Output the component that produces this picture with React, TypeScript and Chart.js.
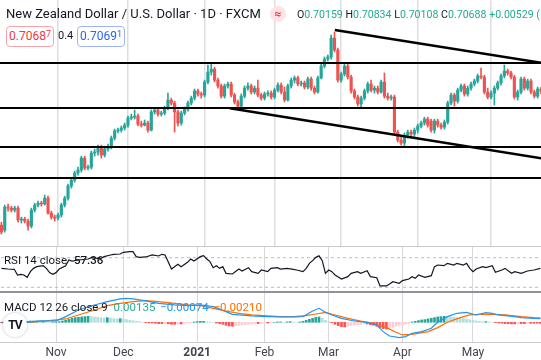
import React, { useEffect, useRef } from "react";
import { Chart, registerables } from "chart.js";
Chart.register(...registerables);

// ---- Price candles (daily, index 0 = 8 Oct 2020) ----
const openP = [
  0.6568, 0.6545, 0.6652, 0.6647, 0.6638, 0.6647, 0.6592, 0.6596, 0.6587, 0.6564,
  0.6638, 0.6661, 0.667, 0.6666, 0.6693, 0.6624, 0.6605, 0.6601, 0.6615, 0.6661,
  0.6693, 0.6749, 0.6776, 0.6809, 0.6823, 0.6878, 0.6832, 0.6836, 0.6901, 0.6906,
  0.6929, 0.6892, 0.692, 0.6933, 0.697, 0.7003, 0.7007, 0.7017, 0.703, 0.7063,
  0.7067, 0.7072, 0.7035, 0.703, 0.704, 0.7007, 0.7091, 0.71, 0.7081, 0.7086,
  0.7109, 0.7146, 0.7132, 0.7091, 0.704, 0.7086, 0.7104, 0.7132, 0.7155, 0.7188,
  0.7174, 0.7169, 0.7229, 0.7275, 0.7289, 0.7238, 0.7211, 0.7164, 0.7211, 0.722,
  0.7169, 0.7137, 0.7118, 0.7164, 0.7201, 0.7211, 0.7183, 0.7201, 0.7169, 0.7155,
  0.7174, 0.7178, 0.716, 0.7192, 0.7215, 0.7183, 0.7146, 0.7211, 0.7238, 0.7248,
  0.722, 0.7225, 0.7206, 0.7243, 0.7201, 0.7183, 0.7248, 0.7303, 0.7335, 0.7345,
  0.7432, 0.7377, 0.7238, 0.7266, 0.7303, 0.7252, 0.7188, 0.716, 0.7128, 0.7155,
  0.7188, 0.722, 0.7192, 0.7201, 0.7183, 0.7229, 0.7164, 0.7155, 0.716, 0.6998,
  0.6961, 0.6947, 0.6984, 0.6998, 0.6989, 0.7007, 0.7026, 0.704, 0.7058, 0.7049,
  0.7007, 0.7049, 0.703, 0.7021, 0.7044, 0.7132, 0.7169, 0.7141, 0.7192, 0.7211,
  0.7174, 0.7201, 0.722, 0.7234, 0.7257, 0.7252, 0.7183, 0.716, 0.7178, 0.7201,
  0.7225, 0.7257, 0.728, 0.7271, 0.7252, 0.716, 0.7183, 0.7243, 0.7201, 0.7234,
  0.7183, 0.7164, 0.7197,
];
const highP = [
  0.6582, 0.6661, 0.6666, 0.6656, 0.6656, 0.6656, 0.6605, 0.6605, 0.6596, 0.6647,
  0.667, 0.6679, 0.6679, 0.6707, 0.6702, 0.6633, 0.6615, 0.6624, 0.667, 0.6702,
  0.6758, 0.6786, 0.6818, 0.6836, 0.6887, 0.6887, 0.6846, 0.691, 0.692, 0.6938,
  0.6938, 0.6933, 0.6943, 0.698, 0.7012, 0.7017, 0.7026, 0.704, 0.7072, 0.7081,
  0.71, 0.7081, 0.7049, 0.7054, 0.7049, 0.71, 0.7109, 0.7109, 0.7095, 0.7118,
  0.7178, 0.7155, 0.7141, 0.71, 0.7095, 0.7114, 0.7141, 0.7164, 0.7197, 0.7197,
  0.7183, 0.7238, 0.7308, 0.7312, 0.7298, 0.7248, 0.722, 0.722, 0.7229, 0.7229,
  0.7178, 0.7146, 0.7174, 0.7211, 0.7225, 0.722, 0.7211, 0.7238, 0.7178, 0.7183,
  0.7188, 0.7188, 0.7201, 0.7225, 0.7225, 0.7206, 0.722, 0.7248, 0.7257, 0.7257,
  0.7234, 0.7234, 0.7252, 0.7252, 0.7211, 0.7257, 0.7312, 0.7345, 0.7354, 0.7446,
  0.746, 0.7386, 0.7275, 0.7312, 0.7312, 0.7261, 0.7197, 0.7169, 0.7164, 0.7197,
  0.7229, 0.7238, 0.7211, 0.7211, 0.7238, 0.7271, 0.7178, 0.7169, 0.7169, 0.7007,
  0.6975, 0.6994, 0.7007, 0.7007, 0.7017, 0.7035, 0.7049, 0.7067, 0.7067, 0.7058,
  0.7058, 0.7058, 0.704, 0.7054, 0.7141, 0.7178, 0.7178, 0.7201, 0.722, 0.722,
  0.7211, 0.7229, 0.7243, 0.7266, 0.7294, 0.7261, 0.7201, 0.7188, 0.7211, 0.7234,
  0.7266, 0.7308, 0.7289, 0.728, 0.7261, 0.7192, 0.7252, 0.7252, 0.7243, 0.7243,
  0.7192, 0.7206, 0.7206,
];
const lowP = [
  0.6527, 0.6536, 0.6633, 0.6629, 0.6629, 0.6582, 0.6578, 0.6578, 0.6545, 0.6555,
  0.6629, 0.6652, 0.6656, 0.6661, 0.6619, 0.6596, 0.6587, 0.6592, 0.6605, 0.6652,
  0.6684, 0.6739, 0.6767, 0.6799, 0.6813, 0.6823, 0.6823, 0.6827, 0.6887, 0.6892,
  0.6878, 0.6883, 0.691, 0.692, 0.6961, 0.6994, 0.6998, 0.7007, 0.7021, 0.7054,
  0.7058, 0.7026, 0.7021, 0.7026, 0.6998, 0.7003, 0.7081, 0.7072, 0.7072, 0.7077,
  0.71, 0.7123, 0.6998, 0.7026, 0.703, 0.7077, 0.7095, 0.7123, 0.7146, 0.7164,
  0.7155, 0.716, 0.722, 0.7261, 0.7229, 0.7201, 0.7155, 0.7155, 0.7201, 0.716,
  0.7128, 0.7104, 0.7109, 0.7155, 0.7192, 0.7174, 0.7174, 0.716, 0.7146, 0.7146,
  0.7164, 0.7151, 0.7151, 0.7183, 0.7174, 0.7137, 0.7141, 0.7201, 0.7225, 0.7211,
  0.7211, 0.7197, 0.7197, 0.7192, 0.7174, 0.7178, 0.7243, 0.7294, 0.7326, 0.7335,
  0.7368, 0.7229, 0.7229, 0.7257, 0.7243, 0.7178, 0.7151, 0.7118, 0.7114, 0.7146,
  0.7178, 0.7183, 0.7178, 0.7174, 0.7178, 0.7155, 0.7146, 0.7146, 0.6989, 0.6952,
  0.6938, 0.6933, 0.697, 0.6975, 0.6975, 0.6994, 0.7017, 0.703, 0.7021, 0.6998,
  0.6994, 0.7021, 0.7012, 0.7012, 0.7035, 0.7123, 0.7118, 0.7132, 0.7183, 0.7164,
  0.7164, 0.7192, 0.7211, 0.7225, 0.7243, 0.7174, 0.7151, 0.7151, 0.7123, 0.7192,
  0.7215, 0.7248, 0.7261, 0.7243, 0.7151, 0.7146, 0.7174, 0.7192, 0.7192, 0.7174,
  0.7155, 0.7155, 0.7174,
];
const closeP = [
  0.6536, 0.6652, 0.6647, 0.6638, 0.6647, 0.6592, 0.6596, 0.6587, 0.6564, 0.6638,
  0.6661, 0.667, 0.6666, 0.6693, 0.6624, 0.6605, 0.6601, 0.6615, 0.6661, 0.6693,
  0.6749, 0.6776, 0.6809, 0.6823, 0.6878, 0.6832, 0.6836, 0.6901, 0.6906, 0.6929,
  0.6892, 0.692, 0.6933, 0.697, 0.7003, 0.7007, 0.7017, 0.703, 0.7063, 0.7067,
  0.7072, 0.7035, 0.703, 0.704, 0.7007, 0.7091, 0.71, 0.7081, 0.7086, 0.7109,
  0.7146, 0.7132, 0.7091, 0.704, 0.7086, 0.7104, 0.7132, 0.7155, 0.7188, 0.7174,
  0.7169, 0.7229, 0.7275, 0.7289, 0.7238, 0.7211, 0.7164, 0.7211, 0.722, 0.7169,
  0.7137, 0.7118, 0.7164, 0.7201, 0.7211, 0.7183, 0.7201, 0.7169, 0.7155, 0.7174,
  0.7178, 0.716, 0.7192, 0.7215, 0.7183, 0.7146, 0.7211, 0.7238, 0.7248, 0.722,
  0.7225, 0.7206, 0.7243, 0.7201, 0.7183, 0.7248, 0.7303, 0.7335, 0.7345, 0.7432,
  0.7377, 0.7238, 0.7266, 0.7303, 0.7252, 0.7188, 0.716, 0.7128, 0.7155, 0.7188,
  0.722, 0.7192, 0.7201, 0.7183, 0.7229, 0.7164, 0.7155, 0.716, 0.6998, 0.6961,
  0.6947, 0.6984, 0.6998, 0.6989, 0.7007, 0.7026, 0.704, 0.7058, 0.703, 0.7007,
  0.7049, 0.703, 0.7021, 0.7044, 0.7132, 0.7169, 0.7141, 0.7192, 0.7211, 0.7174,
  0.7201, 0.722, 0.7234, 0.7257, 0.7252, 0.7183, 0.716, 0.7178, 0.7201, 0.7225,
  0.7257, 0.728, 0.7271, 0.7252, 0.716, 0.7183, 0.7243, 0.7201, 0.7234, 0.7183,
  0.7164, 0.7197, 0.7188,
];

// ---- Drawings ----
const levelPrices = [0.7317, 0.7109, 0.6929, 0.6786];
const upperTrendIdx = [100.1, 165];
const upperTrendPrice = [0.7469, 0.7311];
const lowerTrendIdx = [68.6, 165];
const lowerTrendPrice = [0.7108, 0.687];

// ---- Time axis ----
const monthIdx = [17, 38, 61, 82, 102, 125, 147];
const monthLabels = ["Nov", "Dec", "2021", "Feb", "Mar", "Apr", "May"];

// ---- RSI 14 ----
const rsiIdx = [0, 2, 4, 5, 6, 7, 8, 9, 10, 11, 13, 14, 15, 16, 17, 18, 20, 21, 22, 24, 27, 28, 30, 31, 32, 34, 35, 37, 38, 40, 41, 42, 43, 45, 47, 49, 50, 51, 53, 55, 56, 58, 59, 60, 62, 63, 64, 65, 66, 67, 68, 69, 70, 72, 74, 75, 77, 78, 80, 81, 83, 84, 86, 87, 89, 91, 92, 94, 95, 96, 97, 98, 99, 100, 101, 102, 103, 104, 106, 108, 109, 111, 112, 114, 115, 117, 118, 120, 121, 122, 124, 125, 127, 128, 129, 130, 132, 134, 135, 136, 138, 139, 141, 142, 144, 145, 146, 147, 148, 150, 151, 153, 154, 156, 157, 159, 160, 162, 164, 166, 168];
const rsiVal = [55.6, 54.7, 54.3, 46.6, 47.5, 46.6, 43.5, 51.1, 55.6, 57.9, 59.2, 55.6, 49.8, 47.5, 49.8, 54.7, 59.2, 66.9, 65.5, 66.9, 68.2, 70.0, 69.2, 69.2, 71.4, 73.7, 74.6, 75.0, 77.3, 78.2, 78.2, 71.4, 70.5, 71.0, 73.7, 72.3, 74.6, 73.7, 54.7, 61.0, 57.9, 63.7, 68.2, 65.5, 71.4, 72.8, 68.2, 64.7, 56.5, 59.2, 55.6, 57.9, 48.9, 48.0, 54.7, 52.0, 56.5, 51.1, 48.9, 53.4, 51.1, 55.6, 56.5, 54.7, 55.6, 54.3, 53.4, 51.1, 55.6, 62.4, 66.0, 70.5, 72.5, 66.0, 48.9, 53.4, 51.1, 46.6, 41.2, 44.4, 48.9, 51.1, 48.9, 52.5, 44.4, 43.0, 31.8, 31.8, 34.5, 37.6, 35.4, 39.0, 41.2, 44.4, 42.1, 46.6, 43.5, 45.7, 57.9, 60.1, 59.2, 62.4, 60.1, 62.4, 60.1, 62.4, 55.6, 51.1, 54.7, 57.9, 56.5, 59.2, 50.2, 53.4, 55.6, 48.9, 51.1, 48.9, 52.0, 53.4, 55.6];
const rsiLevels = [70, 30];

// ---- MACD 12 26 9 ----
const macdIdx = [0, 8, 12, 17, 20, 24, 29, 33, 37, 39, 41, 45, 49, 54, 58, 62, 66, 70, 72, 74, 78, 83, 87, 91, 94, 97, 99, 101, 103, 106, 110, 114, 117, 119, 121, 124, 126, 128, 131, 134, 136, 139, 142, 145, 148, 151, 153, 155, 160, 162, 166, 168];
const macdVal = [-0.0001, 0, 0.0004, 0.0004, 0.0017, 0.0037, 0.0052, 0.0062, 0.007, 0.0072, 0.007, 0.0064, 0.0057, 0.0052, 0.005, 0.0052, 0.0047, 0.0032, 0.0024, 0.0022, 0.0019, 0.0017, 0.0016, 0.0016, 0.0017, 0.0034, 0.0042, 0.003, 0.0022, 0.0012, 0.0004, 0, -0.0008, -0.0028, -0.0041, -0.0046, -0.0043, -0.0033, -0.0028, -0.0018, 0, 0.0017, 0.0027, 0.003, 0.0022, 0.0029, 0.0027, 0.0022, 0.0017, 0.0014, 0.0012, 0.0011];
const signalIdx = [0, 8, 14, 20, 24, 29, 33, 37, 41, 45, 49, 54, 58, 62, 66, 70, 74, 78, 83, 87, 91, 95, 98, 101, 104, 108, 112, 116, 120, 123, 125, 128, 133, 136, 139, 143, 146, 149, 153, 157, 162, 166, 168];
const signalVal = [0, 0, 0.0004, 0.001, 0.0022, 0.0037, 0.005, 0.0057, 0.0062, 0.0065, 0.0062, 0.0057, 0.0052, 0.005, 0.0042, 0.0034, 0.0027, 0.0022, 0.0019, 0.0017, 0.0017, 0.002, 0.0025, 0.003, 0.0022, 0.0012, 0.0004, -0.0003, -0.0016, -0.003, -0.0038, -0.0036, -0.0028, -0.0016, 0, 0.0014, 0.0022, 0.0024, 0.0024, 0.0022, 0.0017, 0.0014, 0.0013];
const histVal = [
  -0.0001, -0.0001, 0, 0.0001, 0.0002, 0.0002, 0.0002, 0.0003, 0.0003, 0.0004,
  0.0004, 0.0004, 0.0003, 0.0003, 0.0002, 0.0001, 0.0001, 0.0001, 0.0002, 0.0004,
  0.0006, 0.0009, 0.0012, 0.0014, 0.0015, 0.0016, 0.0017, 0.0018, 0.0017, 0.0016,
  0.0015, 0.0014, 0.0013, 0.0014, 0.0012, 0.0011, 0.001, 0.0011, 0.001, 0.0008,
  0.0006, 0.0005, 0.0003, 0.0002, 0, -0.0001, -0.0002, -0.0002, -0.0003, -0.0004,
  -0.0004, -0.0003, -0.0004, -0.0006, -0.0006, -0.0005, -0.0005, -0.0003, -0.0002, -0.0001,
  0.0001, 0.0002, 0.0003, 0.0003, 0.0002, 0.0001, 0, -0.0002, -0.0004, -0.0006,
  -0.0009, -0.0011, -0.0012, -0.0011, -0.0009, -0.0008, -0.0007, -0.0006, -0.0005, -0.0004,
  -0.0004, -0.0003, -0.0002, -0.0002, -0.0001, 0, 0.0001, 0.0001, 0, 0.0001,
  0.0002, 0.0001, 0, 0.0001, 0.0003, 0.0006, 0.0009, 0.0012, 0.0015, 0.0016,
  0.0012, 0.0006, 0.0002, -0.0001, -0.0006, -0.001, -0.0013, -0.0014, -0.0012, -0.001,
  -0.0008, -0.0007, -0.0006, -0.0005, -0.0005, -0.0007, -0.0009, -0.0012, -0.0016, -0.0019,
  -0.002, -0.0018, -0.0015, -0.0012, -0.0009, -0.0007, -0.0005, -0.0003, 0.0001, 0.0003,
  0.0005, 0.0007, 0.0008, 0.001, 0.0012, 0.0014, 0.0016, 0.0017, 0.0018, 0.0017,
  0.0016, 0.0015, 0.0014, 0.0013, 0.0012, 0.001, 0.0008, 0.0006, 0.0004, 0.0003,
  0.0002, 0.0002, 0.0001, 0, -0.0001, -0.0002, -0.0003, -0.0004, -0.0004, -0.0005,
  -0.0005, -0.0004, -0.0004, -0.0004, -0.0003, -0.0003, -0.0003, -0.0003, -0.0003,
];

// ---- Header values ----
const ohlcText = { o: "0.70159", h: "0.70834", l: "0.70108", c: "0.70688", chg: "+0.00529" };
const bidText = "0.70687";
const askText = "0.70691";
const spreadText = "0.4";
const rsiLast = "57.36";
const macdLast = { hist: "0.00135", macd: "\u22120.00074", signal: "\u22120.00210" };

const UP = "#26a69a";
const DOWN = "#ef5350";
const TEAL_TXT = "#22ab94";
const FONT = "Roboto, 'Liberation Sans', sans-serif";

const setMonthTicks = (scale: any) => {
  scale.ticks = monthIdx.map((v) => ({ value: v }));
};

export default function App() {
  const mainRef = useRef<HTMLCanvasElement>(null);
  const rsiRef = useRef<HTMLCanvasElement>(null);
  const macdRef = useRef<HTMLCanvasElement>(null);

  useEffect(() => {
    const idx = closeP.map((_, i) => i);
    const cCol = idx.map((i) => (closeP[i] >= openP[i] ? UP : DOWN));
    const lineDs = (pts: { x: number; y: number }[], w: number, color: string, extra: any = {}) => ({
      type: "line" as const,
      data: pts,
      borderColor: color,
      borderWidth: w,
      pointRadius: 0,
      tension: 0,
      order: 0,
      ...extra,
    });

    const main = new Chart(mainRef.current!, {
      type: "bar",
      data: {
        datasets: [
          ...levelPrices.map((p) => lineDs([{ x: -2, y: p }, { x: 170, y: p }], 2, "#000")),
          lineDs(upperTrendIdx.map((x, i) => ({ x, y: upperTrendPrice[i] })), 2.5, "#000"),
          lineDs(lowerTrendIdx.map((x, i) => ({ x, y: lowerTrendPrice[i] })), 2.5, "#000"),
          {
            type: "bar",
            data: idx.map((i) => ({ x: i, y: [lowP[i], highP[i]] })),
            backgroundColor: cCol,
            barThickness: 1,
            grouped: false,
            order: 2,
          },
          {
            type: "bar",
            data: idx.map((i) => ({ x: i, y: [openP[i], closeP[i]] })),
            backgroundColor: cCol,
            barThickness: 2.5,
            minBarLength: 1,
            grouped: false,
            order: 1,
          },
        ] as any,
      },
      options: {
        animation: false,
        responsive: false,
        maintainAspectRatio: false,
        layout: { padding: 0 },
        plugins: { legend: { display: false }, tooltip: { enabled: false } },
        scales: {
          x: {
            type: "linear",
            min: -0.42,
            max: 162.0,
            offset: false,
            afterBuildTicks: setMonthTicks,
            ticks: { display: false },
            grid: { color: "#dedede", lineWidth: 1.5, drawTicks: false, offset: false },
            border: { display: false },
          },
          y: { type: "linear", min: 0.6472, max: 0.7608, display: false },
        },
      } as any,
    });

    const rsi = new Chart(rsiRef.current!, {
      type: "line",
      data: {
        datasets: [
          ...rsiLevels.map((lv) =>
            lineDs([{ x: -2, y: lv }, { x: 172, y: lv }], 1, "#b8bbc3", { borderDash: [3, 3], order: 1 })
          ),
          lineDs(rsiIdx.map((x, i) => ({ x, y: rsiVal[i] })), 1.2, "#131722"),
        ] as any,
      },
      options: {
        animation: false,
        responsive: false,
        maintainAspectRatio: false,
        layout: { padding: 0 },
        plugins: { legend: { display: false }, tooltip: { enabled: false } },
        scales: {
          x: {
            type: "linear",
            min: -0.46,
            max: 168.2,
            offset: false,
            afterBuildTicks: setMonthTicks,
            ticks: { display: false },
            grid: { color: "#d9d9d9", lineWidth: 1, drawTicks: false, offset: false },
            border: { display: false },
          },
          y: { type: "linear", min: 25.0, max: 84.46, display: false },
        },
      } as any,
    });

    const histCol = histVal.map((v, i) => {
      const prev = i > 0 ? histVal[i - 1] : 0;
      if (v >= 0) return v >= prev ? "#26a69a" : "#b2dfdb";
      return v <= prev ? "#ff5252" : "#ffcdd2";
    });

    const macd = new Chart(macdRef.current!, {
      type: "bar",
      data: {
        datasets: [
          lineDs(macdIdx.map((x, i) => ({ x, y: macdVal[i] })), 1.2, "#2196f3"),
          lineDs(signalIdx.map((x, i) => ({ x, y: signalVal[i] })), 1.2, "#ff6d00"),
          {
            type: "bar",
            data: histVal.map((v, i) => ({ x: i, y: v })),
            backgroundColor: histCol,
            barThickness: 2,
            grouped: false,
            order: 2,
          },
        ] as any,
      },
      options: {
        animation: false,
        responsive: false,
        maintainAspectRatio: false,
        layout: { padding: 0 },
        plugins: { legend: { display: false }, tooltip: { enabled: false } },
        scales: {
          x: {
            type: "linear",
            min: -0.46,
            max: 168.2,
            offset: false,
            afterBuildTicks: setMonthTicks,
            afterFit: (s: any) => {
              s.height = 18;
            },
            ticks: {
              autoSkip: false,
              maxRotation: 0,
              padding: 4,
              color: "#42454f",
              font: (ctx: any) => ({
                family: FONT,
                size: 12,
                weight: ctx.tick && ctx.tick.label === "2021" ? "bold" : "normal",
              }),
              callback: (_v: any, i: number) => monthLabels[i],
            },
            grid: { color: "#d9d9d9", lineWidth: 1, drawTicks: false, offset: false },
            border: { display: false },
          },
          y: { type: "linear", min: -0.00591, max: 0.00879, display: false },
        },
      } as any,
    });

    return () => {
      main.destroy();
      rsi.destroy();
      macd.destroy();
    };
  }, []);

  const abs = (s: any) => ({ position: "absolute" as const, whiteSpace: "nowrap" as const, ...s });
  const boxStyle = (border: string, color: string, left: number) =>
    abs({
      left,
      top: 26,
      width: 46,
      height: 19,
      border: `1px solid ${border}`,
      borderRadius: 4,
      color,
      background: "#fff",
      font: `12px ${FONT}`,
      lineHeight: "19px",
      textAlign: "center",
    });

  return (
    <div style={{ position: "absolute", left: 0, top: 0, width: 541, height: 360, overflow: "hidden", background: "#fff", fontFamily: FONT }}>
      <canvas ref={mainRef} width={541} height={246} style={{ position: "absolute", left: 0, top: 0 }} />
      <canvas ref={rsiRef} width={541} height={44} style={{ position: "absolute", left: 0, top: 247 }} />
      <canvas ref={macdRef} width={541} height={67} style={{ position: "absolute", left: 0, top: 293 }} />

      <div style={abs({ left: 0, top: 246, width: 541, height: 1, background: "#c8cad0" })} />
      <div style={abs({ left: 0, top: 291, width: 541, height: 2, background: "#8f929b" })} />
      <div style={abs({ left: 0, top: 342, width: 541, height: 1, background: "#c8cad0" })} />

      <div style={abs({ left: 6, top: 6, font: `13px ${FONT}`, lineHeight: "16px", color: "#131722" })}>
        New Zealand Dollar / U.S. Dollar · 1D · FXCM
      </div>
      <div
        style={abs({
          left: 270,
          top: 6,
          width: 16,
          height: 16,
          borderRadius: 8,
          background: "#fde3e6",
          color: "#f23645",
          font: `bold 12px ${FONT}`,
          lineHeight: "16px",
          textAlign: "center",
        })}
      >
        ≈
      </div>
      <div style={abs({ left: 297, top: 7, font: `10.6px ${FONT}`, lineHeight: "16px", color: "#131722" })}>
        O<span style={{ color: TEAL_TXT }}>{ohlcText.o}</span> H<span style={{ color: TEAL_TXT }}>{ohlcText.h}</span> L
        <span style={{ color: TEAL_TXT }}>{ohlcText.l}</span> C<span style={{ color: TEAL_TXT }}>{ohlcText.c}</span>{" "}
        <span style={{ color: TEAL_TXT }}>{ohlcText.chg} (</span>
      </div>

      <div style={boxStyle("#f5a3ab", "#f23645", 6)}>
        {bidText.slice(0, -1)}
        <span style={{ fontSize: 9, verticalAlign: "top", lineHeight: "14px" }}>{bidText.slice(-1)}</span>
      </div>
      <div style={abs({ left: 58, top: 28, font: `11px ${FONT}`, lineHeight: "16px", color: "#131722" })}>{spreadText}</div>
      <div style={boxStyle("#9db5f7", "#2962ff", 77)}>
        {askText.slice(0, -1)}
        <span style={{ fontSize: 9, verticalAlign: "top", lineHeight: "14px" }}>{askText.slice(-1)}</span>
      </div>

      <div style={abs({ left: 4, top: 252, font: `11.5px ${FONT}`, lineHeight: "16px", color: "#131722" })}>
        RSI 14 close <span style={{ marginLeft: 4, fontWeight: 500 }}>{rsiLast}</span>
      </div>
      <div style={abs({ left: 4, top: 299, font: `11.5px ${FONT}`, lineHeight: "16px", color: "#131722" })}>
        MACD 12 26 close 9 <span style={{ color: TEAL_TXT, marginLeft: 3 }}>{macdLast.hist}</span>{" "}
        <span style={{ color: "#2196f3", marginLeft: 2 }}>{macdLast.macd}</span>{" "}
        <span style={{ color: "#ff6d00", marginLeft: 2 }}>{macdLast.signal}</span>
      </div>

      <div
        style={abs({
          left: 3,
          top: 313,
          width: 24,
          height: 24,
          borderRadius: 12,
          background: "#fff",
          boxShadow: "0 0 3px rgba(0,0,0,0.25)",
          color: "#131722",
          font: `bold 12px ${FONT}`,
          lineHeight: "24px",
          textAlign: "center",
          letterSpacing: -1,
        })}
      >
        TV
      </div>
    </div>
  );
}
